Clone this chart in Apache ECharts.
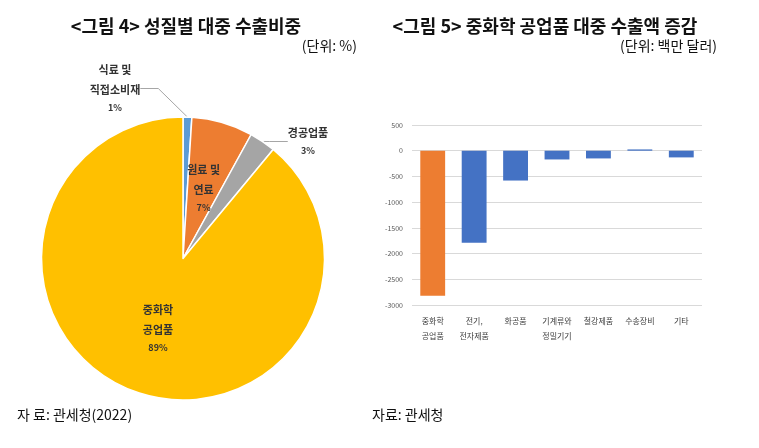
<!DOCTYPE html>
<html><head><meta charset="utf-8">
<script src="https://cdn.jsdelivr.net/npm/echarts@6/dist/echarts.min.js"></script>
<style>html,body{margin:0;padding:0;background:#fff}#c{width:759px;height:448px}</style>
</head><body><div id="c"></div>
<script>
// Pie data (figure 4)
const pieNames = ['식료 및\n직접소비재', '원료 및\n연료', '경공업품', '중화학\n공업품'];
const pieValues = [1, 7, 3, 89];
const pieColors = ['#5B9BD5', '#ED7D31', '#A5A5A5', '#FFC000'];
const pieLabelPos = ['outside', 'inside', 'outside', 'inside'];

// Bar data (figure 5)
const barCategories = ['중화학\n공업품', '전기,\n전자제품', '화공품', '기계류와\n정밀기기', '철강제품', '수송장비', '기타'];
const barValues = [-2820, -1790, -580, -170, -150, 25, -130];
const barColors = ['#ED7D31', '#4472C4', '#4472C4', '#4472C4', '#4472C4', '#4472C4', '#4472C4'];
const yTicks = [-3000, -2500, -2000, -1500, -1000, -500, 0, 500];

const FONT = '"Noto Sans CJK KR", sans-serif';
const chart = echarts.init(document.getElementById('c'), null, {renderer: 'canvas'});

function t(text, pos, size, weight) {
  return Object.assign({text: text, padding: 0,
    textStyle: {fontFamily: FONT, fontSize: size, fontWeight: weight, color: '#111'}}, pos);
}

chart.setOption({
  animation: false,
  backgroundColor: '#fff',
  textStyle: {fontFamily: FONT},
  title: [
    t('<그림 4> 성질별 대중 수출비중', {left: 186, top: 17, textAlign: 'center'}, 18, 'bold'),
    t('(단위: %)', {right: 759 - 357, top: 39}, 14, 'normal'),
    t('<그림 5> 중화학 공업품 대중 수출액 증감', {left: 545, top: 17, textAlign: 'center'}, 18, 'bold'),
    t('(단위: 백만 달러)', {right: 759 - 717, top: 39}, 14, 'normal'),
    t('자 료: 관세청(2022)', {left: 17, top: 408}, 14, 'normal'),
    t('자료: 관세청', {left: 372, top: 408}, 14, 'normal')
  ],
  grid: {left: 412, right: 57, top: 125, bottom: 143, containLabel: false},
  xAxis: {
    type: 'category', data: barCategories,
    axisLine: {show: false, onZero: false}, axisTick: {show: false},
    axisLabel: {fontFamily: FONT, fontSize: 8, color: '#404040', lineHeight: 15, margin: 8, interval: 0}
  },
  yAxis: {
    type: 'value', min: yTicks[0], max: yTicks[yTicks.length - 1], interval: yTicks[1] - yTicks[0],
    axisLine: {show: false}, axisTick: {show: false},
    axisLabel: {fontFamily: FONT, fontSize: 7, color: '#595959', margin: 9, formatter: v => String(v)},
    splitLine: {lineStyle: {color: '#D9D9D9', width: 1}}
  },
  series: [
    {
      type: 'bar', barCategoryGap: '40%',
      data: barValues.map((v, i) => ({value: v, itemStyle: {color: barColors[i]}}))
    },
    {
      type: 'pie', center: [183, 258.5], radius: [0, 141.5], startAngle: 90, clockwise: true,
      itemStyle: {borderColor: '#fff', borderWidth: 1.5},
      labelLine: {show: true, length: 12, length2: 18, lineStyle: {color: '#A6A6A6', width: 1}},
      labelLayout: function (p) {
        if (p.dataIndex === 0) return {x: 115, y: 88, align: 'center', verticalAlign: 'middle'};
        if (p.dataIndex === 2) return {x: 308, y: 141, align: 'center', verticalAlign: 'middle'};
        return {};
      },
      label: {
        formatter: p => '{n|' + p.name + '}\n{p|' + p.value + '%}',
        rich: {
          n: {fontFamily: FONT, fontSize: 11, fontWeight: 'bold', color: '#333', lineHeight: 20, align: 'center'},
          p: {fontFamily: FONT, fontSize: 9, fontWeight: 'bold', color: '#333', lineHeight: 16, align: 'center'}
        }
      },
      data: pieValues.map((v, i) => ({
        name: pieNames[i], value: v,
        itemStyle: {color: pieColors[i]},
        label: {position: pieLabelPos[i]},
        labelLine: {show: pieLabelPos[i] === 'outside'}
      }))
    }
  ]
});
</script></body></html>
